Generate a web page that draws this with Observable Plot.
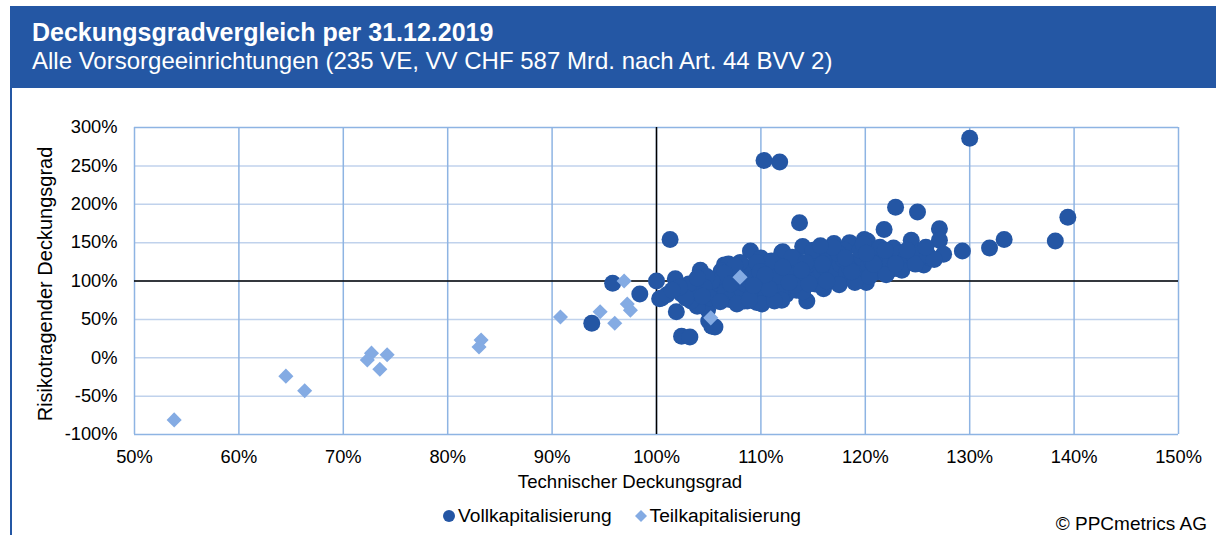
<!DOCTYPE html>
<html><head><meta charset="utf-8">
<script src="https://cdn.jsdelivr.net/npm/d3@7"></script>
<script src="https://cdn.jsdelivr.net/npm/@observablehq/plot@0.6"></script>
<style>
body{margin:0;background:#fff;font-family:"Liberation Sans",Arial,sans-serif;}
#wrap{position:relative;width:1216px;height:535px;overflow:hidden;}
#hdr{position:absolute;left:10px;top:6px;width:1206px;height:82px;background:#2457A4;}
#t1{position:absolute;left:22px;top:12px;color:#fff;font-weight:bold;font-size:25px;white-space:nowrap;}
#t2{position:absolute;left:22px;top:41px;color:#fff;font-size:24px;white-space:nowrap;}
#lb{position:absolute;left:10px;top:88px;width:2px;height:447px;background:#2457A4;}
#chart{position:absolute;left:12px;top:88px;}
.lab{position:absolute;font-size:18.6px;color:#000;white-space:nowrap;}
</style></head>
<body><div id="wrap">
<div id="hdr"><div id="t1">Deckungsgradvergleich per 31.12.2019</div><div id="t2">Alle Vorsorgeeinrichtungen (235 VE, VV CHF 587 Mrd. nach Art. 44 BVV 2)</div></div>
<div id="lb"></div>
<div id="chart"></div>
<div class="lab" id="xl" style="left:630px;top:471px;transform:translateX(-50%);">Technischer Deckungsgrad</div>
<div class="lab" id="yl" style="left:45px;top:284px;font-size:20px;transform:translate(-50%,-50%) rotate(-90deg);">Risikotragender Deckungsgrad</div>
<div class="lab" id="leg" style="left:442px;top:505px;font-size:19.2px;display:flex;align-items:center;">
  <svg width="14" height="14" style="margin-right:2px"><circle cx="7" cy="7" r="6" fill="#2456A4"/></svg><span>Vollkapitalisierung</span>
  <svg width="14" height="14" style="margin-left:22px;margin-right:2px"><path d="M7,1L13,7L7,13L1,7Z" fill="#84ABE3"/></svg><span>Teilkapitalisierung</span>
</div>
<div class="lab" style="right:9px;top:513px;font-size:19px;">© PPCmetrics AG</div>
</div>
<script>
const xTicks = [50,60,70,80,90,100,110,120,130,140,150];
const yTicks = [-100,-50,0,50,100,150,200,250,300];

const teilX = [53.8,64.5,66.3,72.7,72.3,73.5,74.2,83.2,83.0,90.8,94.6,96.0,96.9,97.2,97.5,108.0,105.2];
const teilY = [-81,-24,-43,6,-3,-15,4,23,14,53,60,45,100,70,62,105,52];

const vollX = [93.8,95.8,98.4,100,100.3,100.5,101,101.3,101.8,101.9,102.4,103.2,102.4,102.9,104.2,104.1,104.9,105.3,105,105.6,104.2,105.5,106.5,106.9,107.2,108.7,109.6,109,110,110.3,111.8,112,111.9,113,113.7,114,114.4,115,117,118.5,119.9,120.1,121.8,122.9,125,127.1,127.1,124.4,127.5,129.3,131.9,133.3,138.2,139.4,130,125.6,122.7,121.5,120.2,120.8,122.1,123.4,124.3,126.2,112.1,103.9,102.8,103.3,106.2,104.6,107.4,108.4,
105.8,106.3,106.8,107.2,107.5,107.8,106,106.6,107,107.6,108.2,108.5,108.8,108.3,107.9,108.6,109.2,109.5,109.8,110.2,109.4,109.1,110.6,110.4,110.9,111.2,110.7,111.5,111.8,112.2,112.5,112.8,113.1,112.4,113.4,113.7,114.1,114.5,114.8,113.5,115.2,115.5,115.8,116.1,116.4,115.4,116.7,117,117.3,117.6,117.9,116.2,118.2,118.5,118.8,119.1,119.4,119.7,118,120.3,120.6,120.9,121.2,121.5,121.8,122.1,122.4,122.7,123,123.3,123.6,123.9,124.2,124.6,125,125.3,119.5,117.4,115,113,111,109.6,110.1,112,111.3,114,116,117.5,119,120.4,122,123.5,113.2,111.6,109.9,108,107.5,106.5,105.3,104.8,104.6,105.1,103.6,103.1,103.9,104.4,102.8,102.2,101.5,106.1,107.7,108.9,110.8,112.7,114.6,116.3,118.7,120.8,122.9,124.8,121.4,119.8,116.9,114.3,112.1,110.4,109.3,107.1,113.9,115.9,118.1,120.1,121.9,124,126,126.6,125.8,115.7];
const vollY = [45,97,83,100,77,78,82,154,103,60,28,27,83,91,114,70,63,41,48,40,91,85,121,122,83,74,72,139,130,257,255,137,85,96,176,145,74,137,149,150,154,98,167,196,190,168,153,153,135,139,143,154,152,183,286,121,143,139,152,117,122,130,132,130,138,67,85,74,113,96,91,74,
88,95,100,106,98,92,80,86,76,84,88,96,102,110,115,118,112,106,98,92,88,80,84,78,102,110,116,120,96,90,104,112,118,82,88,100,108,114,122,126,96,104,112,118,126,130,108,100,114,122,128,134,110,118,104,124,114,130,140,120,126,132,112,118,128,134,124,116,128,136,122,130,126,134,128,138,140,136,140,131,126,124,70,75,74,86,90,95,98,106,108,114,94,106,112,124,120,110,100,106,92,78,86,96,104,80,78,92,88,73,70,76,90,98,96,100,112,122,122,122,144,148,144,124,118,108,94,96,114,122,130,136,140,140,134,128,144,146];

const voll = vollX.map((x,i)=>({x, y: vollY[i]}));
const teil = teilX.map((x,i)=>({x, y: teilY[i]}));

const pct = d => d + "%";
const plot = Plot.plot({
  width: 1204, height: 420,
  marginLeft: 122, marginRight: 38, marginTop: 39, marginBottom: 74,
  style: {fontFamily: "'Liberation Sans', Arial, sans-serif", fontSize: "18.3px", color: "#000", background: "transparent"},
  x: {domain: [50,150], ticks: xTicks, tickFormat: pct, label: null, tickSize: 0, tickPadding: 15},
  y: {domain: [-100,300], ticks: yTicks, tickFormat: pct, label: null, tickSize: 0, tickPadding: 17},
  marks: [
    Plot.ruleY(yTicks.filter(d => d > -100 && d < 300), {stroke: "#C0D2EC", strokeWidth: 1.5}),
    Plot.ruleX(xTicks, {stroke: "#8EB4E3", strokeWidth: 1.5}),
    Plot.ruleY([-100, 300], {stroke: "#8EB4E3", strokeWidth: 1.5}),
    Plot.ruleX([100], {stroke: "#000", strokeWidth: 1.5}),
    Plot.ruleY([100], {stroke: "#000", strokeWidth: 1.5}),
    Plot.dot(voll, {x: "x", y: "y", r: 8.5, fill: "#2456A4", stroke: "none"}),
    Plot.dot(teil, {x: "x", y: "y", r: 6.8, symbol: "diamond2", fill: "#84ABE3", stroke: "none"})
  ]
});
document.getElementById("chart").appendChild(plot);
</script>
</body></html>
